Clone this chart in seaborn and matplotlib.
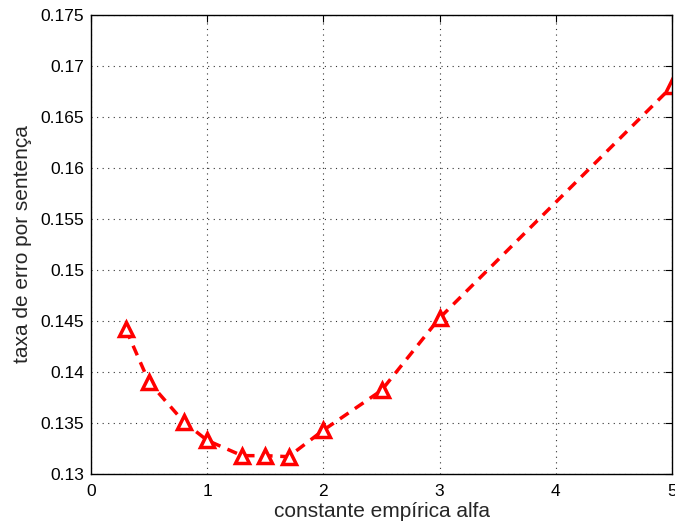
import matplotlib
matplotlib.use("Agg")
import matplotlib.pyplot as plt
import seaborn as sns
import pandas as pd

# Sentence error rate versus the empirical constant alpha
alfa = [0.3, 0.5, 0.8, 1.0, 1.3, 1.5, 1.7, 2.0, 2.5, 3.0, 5.0]
taxa_erro = [0.1442, 0.1390, 0.1351, 0.1333, 0.1318, 0.1318, 0.1317,
             0.1343, 0.1382, 0.1453, 0.1680]

x_ticks = [0, 1, 2, 3, 4, 5]
y_ticks = [0.13, 0.135, 0.14, 0.145, 0.15, 0.155, 0.16, 0.165, 0.17, 0.175]
y_tick_labels = ["0.13", "0.135", "0.14", "0.145", "0.15", "0.155",
                 "0.16", "0.165", "0.17", "0.175"]

df = pd.DataFrame({"alfa": alfa, "taxa": taxa_erro})

sns.set_style("white")
plt.rcParams["font.family"] = ["Liberation Sans", "DejaVu Sans"]

fig = plt.figure(figsize=(6.75, 5.25), dpi=100)
ax = fig.add_axes([0.1348, 0.0971, 0.8608, 0.8743])

sns.lineplot(data=df, x="alfa", y="taxa", ax=ax, color="red",
             linestyle="--", linewidth=2.5, marker="^", markersize=10,
             markerfacecolor="white", markeredgecolor="red",
             markeredgewidth=2.5, dashes=False)
ax.lines[0].set_linestyle((0, (3, 2.2)))

ax.set_xlim(0, 5)
ax.set_ylim(0.13, 0.175)
ax.set_xticks(x_ticks)
ax.set_xticklabels([str(t) for t in x_ticks])
ax.set_yticks(y_ticks)
ax.set_yticklabels(y_tick_labels)

ax.grid(True, linestyle=(0, (1, 4)), color="#333333", linewidth=0.8)
ax.tick_params(direction="in", top=True, right=True, length=5,
               labelsize=12.5, colors="black", pad=5)
ax.tick_params(axis="x", pad=7)
for s in ax.spines.values():
    s.set_color("black")
    s.set_linewidth(1.0)

ax.set_xlabel("constante empírica alfa", fontsize=15, labelpad=2)
ax.set_ylabel("taxa de erro por sentença", fontsize=15, labelpad=6)

fig.savefig("out.png", dpi=100)
